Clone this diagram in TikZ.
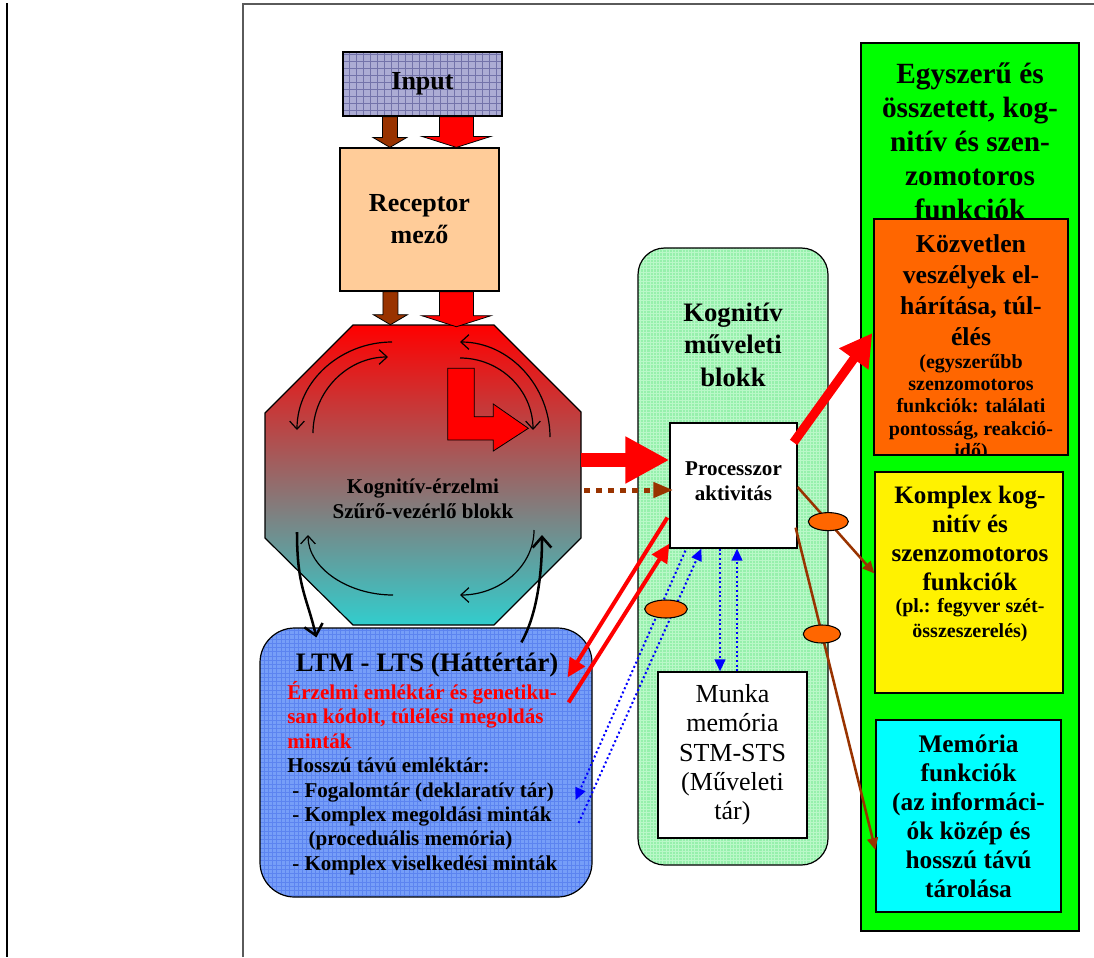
\documentclass[tikz,border=0pt]{standalone}
\usepackage{fontspec}
\setmainfont{Liberation Serif}
\usetikzlibrary{calc,arrows.meta,shapes.geometric}
\definecolor{brn}{RGB}{153,51,0}
\definecolor{orng}{RGB}{255,102,0}
\definecolor{peach}{RGB}{255,204,153}
\definecolor{lav}{RGB}{172,172,212}
\definecolor{lavline}{RGB}{115,115,170}
\definecolor{ltmblue}{RGB}{118,158,248}
\definecolor{ltmline}{RGB}{92,132,240}
\definecolor{kgreen}{RGB}{150,240,172}
\definecolor{kline}{RGB}{185,248,200}
\definecolor{colgreen}{RGB}{0,255,0}
\definecolor{cyanbox}{RGB}{0,255,255}
\definecolor{octtop}{RGB}{255,0,0}
\definecolor{octmid}{RGB}{185,152,152}
\definecolor{octbot}{RGB}{50,205,205}
\definecolor{framegray}{RGB}{90,90,90}
\definecolor{blu}{RGB}{0,0,255}
\newcommand\fsz[2]{\fontsize{#1}{#2}\selectfont}
\newcommand\varrow[6]{%
 \draw[line width=0.6pt,fill=#6] let \p1=#1, \p2=#2 in
 ({\x1-#3*0.75pt},\y1) -- ({\x1+#3*0.75pt},\y1) -- ({\x1+#3*0.75pt},{\y2+#5*0.75pt}) --
 ({\x1+#4*0.75pt},{\y2+#5*0.75pt}) -- (\x1,\y2) -- ({\x1-#4*0.75pt},{\y2+#5*0.75pt}) --
 ({\x1-#3*0.75pt},{\y2+#5*0.75pt}) -- cycle;}
\tikzset{
 box/.style={draw=black, line width=0.9pt, inner sep=0pt},
 txt/.style={inner sep=0pt, align=center},
 ell/.style={ellipse, draw=black, line width=0.8pt, fill=orng, inner sep=0pt},
 barb/.style={line width=0.9pt, -{Straight Barb[length=6pt,width=11pt]}},
 bigbarb/.style={line width=1.9pt, -{Straight Barb[length=8pt,width=14pt]}},
 brnline/.style={brn, line width=1.9pt, -{Triangle[length=9pt,width=8pt]}},
 redthin/.style={red, line width=3pt, -{Triangle[length=14pt,width=13pt]}},
 bluedot/.style={blu, line width=1.5pt, dash pattern=on 1.5pt off 2pt, -{Triangle[length=9pt,width=8pt]}},
}
\begin{document}
\begin{tikzpicture}[x=0.75pt,y=-0.75pt]
\useasboundingbox (0,0) rectangle (1094,957);
% page frame lines
\draw[black, line width=1.4pt] (7,3) -- (7,957);
\draw[framegray, line width=1.4pt] (243,957) -- (243,4) -- (1094,4);

% right column
\node[box, fill=colgreen, minimum width=163.5pt, minimum height=666pt] (col) at (970,487) {};
\node[txt, font=\bfseries\fsz{22}{25.5}] (coltitle) at (970,141) {Egyszerű és\\összetett, kog-\\nitív és szen-\\zomotoros\\funkciók};
\node[box, fill=orng, minimum width=145.5pt, minimum height=177pt] (orange) at (971,337) {};
\node[txt, font=\bfseries\fsz{19.3}{23.3}] (orangetitle) at (971,290) {Közvetlen\\veszélyek el-\\hárítása, túl-\\élés};
\begin{scope}
\clip (orange.north west) rectangle (orange.south east);
\node[txt, font=\bfseries\fsz{15}{16.7}] (orangesmall) at (971,408) {(egyszerűbb\\szenzomotoros\\funkciók: találati\\pontosság, reakció-\\idő)};
\end{scope}
\node[box, fill=yellow, minimum width=141pt, minimum height=165.75pt] (yellowbox) at (969,582.5) {};
\node[txt, font=\bfseries\fsz{18.8}{21.8}] (yellowtitle) at (970,538.5) {Komplex kog-\\nitív és\\szenzomotoros\\funkciók};
\node[txt, font=\bfseries\fsz{15}{18.75}] (yellowsmall) at (970,620) {(pl.: fegyver szét-\\összeszerelés)};
\node[box, fill=cyanbox, minimum width=138.75pt, minimum height=144pt, align=center, font=\bfseries\fsz{19}{21.8}] (cyanb) at (968.5,816) {Memória\\funkciók\\(az informáci-\\ók közép és\\hosszú távú\\tárolása};

% cognitive operation block
\node[box, rounded corners=20pt, fill=kgreen, minimum width=142.5pt, minimum height=462.75pt,
  path picture={\draw[kline, line width=0.3pt] (path picture bounding box.south west) grid[step=2.4pt] (path picture bounding box.north east);}] (kog) at (733,556.5) {};
\node[txt, font=\bfseries\fsz{20}{24.4}] (kogtitle) at (733,344.5) {Kognitív\\műveleti\\blokk};
\node[box, fill=white, minimum width=95.25pt, minimum height=93.75pt] (proc) at (733.5,485.5) {};
\node[txt, font=\bfseries\fsz{15.8}{18.75}] (proctext) at (733.5,481) {Processzor\\aktivitás};
\node[box, fill=white, minimum width=111.75pt, minimum height=124.5pt, align=center, font=\fsz{19.5}{22}] (munka) at (732.5,755) {Munka\\memória\\STM-STS\\(Műveleti\\tár)};

% LTM box
\node[box, rounded corners=26pt, fill=ltmblue, minimum width=249pt, minimum height=201.75pt,
  path picture={\draw[ltmline, line width=0.35pt] (path picture bounding box.south west) grid[step=3.2pt] (path picture bounding box.north east);}] (ltm) at (426,762.5) {};
\node[txt, font=\bfseries\fsz{20}{22}] (ltmtitle) at (427,665) {LTM - LTS (Háttértár)};
\node[inner sep=0pt, align=left, font=\bfseries\fsz{15.8}{18.3}, anchor=west] (ltmbody) at (287,778) {%
\textcolor{red}{Érzelmi emléktár és genetiku-}\\
\textcolor{red}{san kódolt, túlélési megoldás}\\
\textcolor{red}{minták}\\
Hosszú távú emléktár:\\
\hspace*{3.75pt}- Fogalomtár (deklaratív tár)\\
\hspace*{3.75pt}- Komplex megoldási minták\\
\hspace*{16pt}(proceduális memória)\\
\hspace*{3.75pt}- Komplex viselkedési minták};

% octagon
\node[inner sep=0pt, minimum width=237pt, minimum height=225pt] (octo) at (423,475) {};
\shade[top color=octtop, middle color=octmid, bottom color=octbot]
 ($(octo)+(-70,-150)$) -- ($(octo)+(71,-150)$) -- ($(octo)+(158,-63)$) -- ($(octo)+(158,63)$) --
 ($(octo)+(71,150)$) -- ($(octo)+(-70,150)$) -- ($(octo)+(-158,63)$) -- ($(octo)+(-158,-62)$) -- cycle;
\draw[line width=0.9pt]
 ($(octo)+(-70,-150)$) -- ($(octo)+(71,-150)$) -- ($(octo)+(158,-63)$) -- ($(octo)+(158,63)$) --
 ($(octo)+(71,150)$) -- ($(octo)+(-70,150)$) -- ($(octo)+(-158,63)$) -- ($(octo)+(-158,-62)$) -- cycle;
\node[txt, font=\bfseries\fsz{15.8}{18.75}] (octotext) at (423,499) {Kognitív-érzelmi\\Szűrő-vezérlő blokk};
% L-shaped arrow
\draw[line width=0.6pt, fill=red]
 ($(octo)+(24.7,-106.7)$) -- ($(octo)+(51.3,-106.7)$) -- ($(octo)+(51.3,-58.3)$) -- ($(octo)+(70.3,-58.3)$) --
 ($(octo)+(70.3,-71)$) -- ($(octo)+(105.3,-46.7)$) -- ($(octo)+(70.3,-24)$) -- ($(octo)+(70.3,-35)$) --
 ($(octo)+(24.7,-35)$) -- cycle;
% circular arrows
\draw[barb] ($(octo)+(-31,-133)$) .. controls ($(octo)+(-81,-133)$) and ($(octo)+(-126,-95)$) .. ($(octo)+(-126,-45)$);
\draw[barb] ($(octo)+(-110,-42)$) .. controls ($(octo)+(-110,-83)$) and ($(octo)+(-76,-118)$) .. ($(octo)+(-35,-118)$);
\draw[barb] ($(octo)+(127,-38)$) .. controls ($(octo)+(127,-88)$) and ($(octo)+(87,-133)$) .. ($(octo)+(37,-133)$);
\draw[barb] ($(octo)+(37,-117)$) .. controls ($(octo)+(77,-117)$) and ($(octo)+(110,-85)$) .. ($(octo)+(110,-45)$);
\draw[barb] ($(octo)+(-30,120)$) .. controls ($(octo)+(-75,120)$) and ($(octo)+(-115,93)$) .. ($(octo)+(-115,60)$);
\draw[barb] ($(octo)+(111,55)$) .. controls ($(octo)+(111,91)$) and ($(octo)+(77,120)$) .. ($(octo)+(37,120)$);
\draw[bigbarb] ($(octo)+(-126,57)$) .. controls ($(octo)+(-126,112)$) and ($(ltm.north west)+(47,-32)$) .. ($(ltm.north west)+(57,10)$);
\draw[bigbarb] ($(ltm.north west)+(262,15)$) .. controls ($(ltm.north west)+(276,-10)$) and ($(octo)+(119,105)$) .. ($(octo)+(119,60)$);

% input and receptor
\node[box, fill=lav, minimum width=119.25pt, minimum height=48pt, font=\bfseries\fsz{19.5}{22},
  path picture={\draw[lavline, line width=0.4pt] (path picture bounding box.south west) grid[step=5.25pt] (path picture bounding box.north east);}] (input) at (422.5,84) {Input};
\node[box, fill=peach, minimum width=119.25pt, minimum height=107.25pt, align=center, font=\bfseries\fsz{19.5}{24}] (rec) at (419.5,219.5) {Receptor\\mező};
\varrow{($(input.south west)+(47.5,0)$)}{(rec.north)}{7.5}{17}{10}{brn}
\varrow{($(input.south west)+(114,0)$)}{(rec.north)}{17}{34.5}{11}{red}
\varrow{($(rec.south west)+(51,0)$)}{(octo.north)}{7.5}{17}{10}{brn}
\varrow{($(rec.south west)+(117,0)$)}{($(octo.north)+(0,2)$)}{17}{34.5}{11}{red}

% connectors
\draw[red, line width=10.5pt, -{Triangle[length=33pt,width=33pt]}] ($(octo.east)+(0,-15)$) -- ($(proc.west)+(0,-25.5)$);
\draw[brn, line width=3.75pt, dash pattern=on 4.5pt off 4.5pt, -{Triangle[length=15pt,width=11pt]}] ($(octo.east)+(3,15)$) -- ($(proc.west)+(4,4.5)$);
\draw[red, line width=6.75pt, -{Triangle[length=24pt,width=25.5pt]}] ($(proc.north east)+(-4,20)$) -- ($(orange.west)+(-1,-4)$);
\draw[brnline] ($(proc.east)+(0,1.5)$) -- node[ell, pos=0.4, minimum width=30pt, minimum height=13.5pt] (e1) {} ($(yellowbox.west)+(0,-9)$);
\draw[brnline] ($(proc.south east)+(-2,-21)$) -- node[ell, pos=0.33, minimum width=28pt, minimum height=13.5pt] (e2) {} ($(cyanb.west)+(0,34)$);
\draw[redthin] ($(proc.west)+(-2,32)$) -- ($(ltm.north east)+(-25,50)$);
\draw[redthin] ($(ltm.north east)+(-24,75)$) -- ($(proc.south west)+(0,-5)$);
\draw[bluedot] ($(proc.south west)+(16,2)$) -- ($(ltm.east)+(-17,37.5)$);
\draw[bluedot] ($(ltm.east)+(-14,60.5)$) -- ($(proc.south west)+(32,0)$);
\draw[bluedot] ($(proc.south)+(-13.5,0)$) -- ($(munka.north)+(-12.5,0)$);
\draw[bluedot] ($(munka.north)+(4.5,0)$) -- ($(proc.south)+(3.5,0)$);
\node[ell, minimum width=32pt, minimum height=13.5pt] (e3) at (666,609) {};
\end{tikzpicture}
\end{document}
